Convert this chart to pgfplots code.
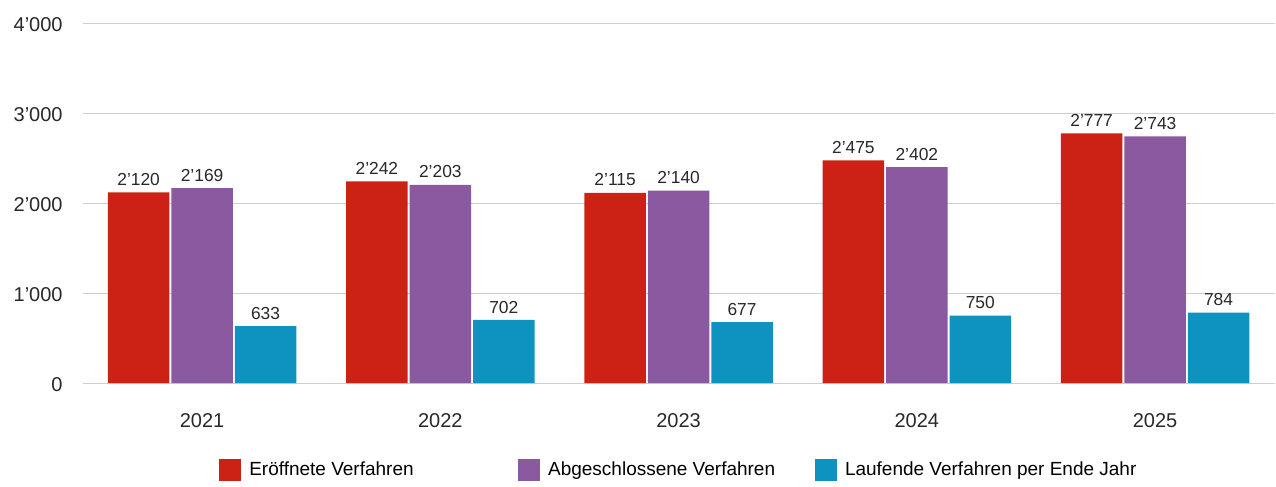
\documentclass[border=0pt]{standalone}
\usepackage{fontspec}
\setmainfont{Liberation Sans}
\usepackage{pgfplots}
\pgfplotsset{compat=1.18}
\definecolor{cred}{RGB}{204,34,22}
\definecolor{cpurple}{RGB}{138,89,160}
\definecolor{cblue}{RGB}{14,147,193}
\definecolor{cgrid}{RGB}{206,206,206}
\definecolor{ctext}{RGB}{40,40,40}
\begin{document}
\begin{tikzpicture}
\path (0,0) rectangle (638pt,243.5pt);
\begin{axis}[
  at={(41.5pt,51.85pt)}, anchor=south west,
  scale only axis, width=596.5pt, height=180pt,
  xmin=-0.5, xmax=4.505, ymin=0, ymax=4000,
  ybar=1pt, bar width=30.75pt,
  axis line style={draw=none},
  major tick length=0pt,
  ytick={0,1000,2000,3000,4000},
  yticklabels={0,1’000,2’000,3’000,4’000},
  xtick={0,1,2,3,4},
  xticklabels={2021,2022,2023,2024,2025},
  ymajorgrids, grid style={cgrid, line width=0.6pt},
  yticklabel style={anchor=east, inner sep=0pt, xshift=-10pt, yshift=-0.8pt, font=\fontsize{10}{12}\selectfont, text=ctext},
  xticklabel style={anchor=north, inner sep=0pt, yshift=-15pt, font=\fontsize{10}{12}\selectfont, text=ctext},
  point meta=explicit symbolic,
  nodes near coords={\pgfplotspointmeta},
  nodes near coords style={anchor=south, inner sep=0pt, yshift=3.2pt, font=\fontsize{8.7}{10}\selectfont, text=ctext},
  legend columns=3,
  legend style={draw=none, fill=none, inner sep=0pt, at={(0.114,-0.242)}, anchor=west,
    font=\fontsize{9.5}{11}\selectfont, text=black,
    nodes={inner sep=0pt, anchor=west},
    /tikz/every odd column/.append style={column sep=4pt}},
  legend image code/.code={\fill[#1] (0pt,-5.5pt) rectangle (11pt,5.5pt);},
]
\addplot[fill=cred, draw=none]
  coordinates {(0,2120)[2’120] (1,2242)[2’242] (2,2115)[2’115] (3,2475)[2’475] (4,2777)[2’777]};
\addlegendentry{\makebox[134.5pt][l]{Eröffnete Verfahren}}
\addplot[fill=cpurple, draw=none]
  coordinates {(0,2169)[2’169] (1,2203)[2’203] (2,2140)[2’140] (3,2402)[2’402] (4,2743)[2’743]};
\addlegendentry{\makebox[133.5pt][l]{Abgeschlossene Verfahren}}
\addplot[fill=cblue, draw=none]
  coordinates {(0,633)[633] (1,702)[702] (2,677)[677] (3,750)[750] (4,784)[784]};
\addlegendentry{Laufende Verfahren per Ende Jahr}
\end{axis}
\end{tikzpicture}
\end{document}
